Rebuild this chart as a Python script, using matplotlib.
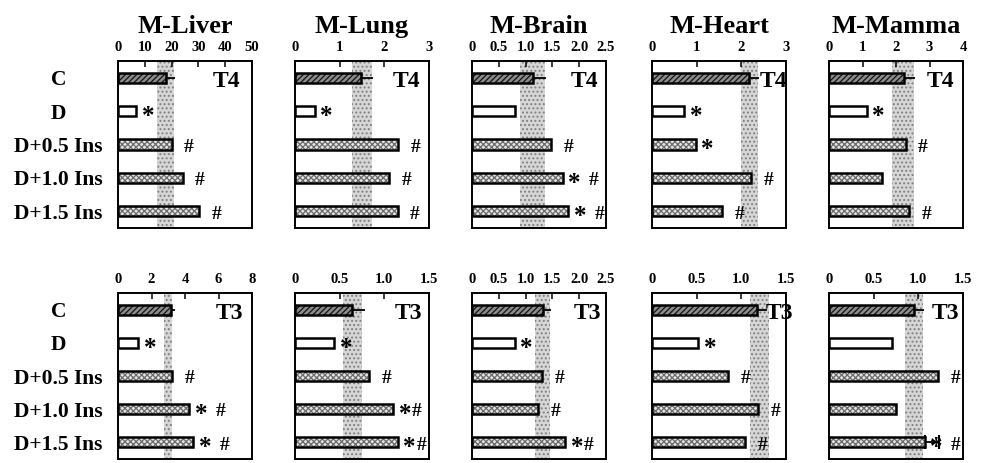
import matplotlib
matplotlib.use('Agg')
from matplotlib import pyplot as plt
from matplotlib.transforms import blended_transform_factory
import numpy as np

plt.rcParams['font.family'] = ['Liberation Serif', 'DejaVu Serif']
plt.rcParams['font.weight'] = 'bold'
plt.rcParams['hatch.linewidth'] = 0.9

organs = ['M-Liver', 'M-Lung', 'M-Brain', 'M-Heart', 'M-Mamma']
groups = ['C', 'D', 'D+0.5 Ins', 'D+1.0 Ins', 'D+1.5 Ins']

# ---- T4 (top row) ----
t4_liver = [17.8, 6.9, 20.0, 24.1, 30.4]
t4_lung = [1.48, 0.44, 2.31, 2.11, 2.30]
t4_brain = [1.14, 0.81, 1.47, 1.69, 1.79]
t4_heart = [2.18, 0.72, 0.98, 2.22, 1.57]
t4_mamma = [2.23, 1.13, 2.29, 1.59, 2.39]
t4_values = [t4_liver, t4_lung, t4_brain, t4_heart, t4_mamma]

t4_errors = [[3.4, 0, 0, 0, 0], [0.26, 0, 0, 0, 0], [0.24, 0, 0, 0, 0],
             [0.21, 0, 0, 0, 0], [0.33, 0, 0, 0, 0]]
t4_bands = [(14.6, 20.9), (1.28, 1.73), (0.89, 1.36), (1.99, 2.37), (1.88, 2.54)]
# '*' = vs C, '#' = vs D ; a space means the two marks are spread apart
t4_marks = [['', '*', '#', '#', '#'],
            ['', '*', '#', '#', '#'],
            ['', '', '#', '* #', '* #'],
            ['', '*', '*', '#', '#'],
            ['', '*', '#', '', '#']]
t4_ticks = [[0, 10, 20, 30, 40, 50], [0, 1, 2, 3], [0, 0.5, 1, 1.5, 2, 2.5],
            [0, 1, 2, 3], [0, 1, 2, 3, 4]]
t4_ticklabels = [['0', '10', '20', '30', '40', '50'], ['0', '1', '2', '3'],
                 ['0', '0.5', '1.0', '1.5', '2.0', '2.5'], ['0', '1', '2', '3'],
                 ['0', '1', '2', '3', '4']]

# ---- T3 (bottom row) ----
t3_liver = [3.14, 1.19, 3.24, 4.24, 4.48]
t3_lung = [0.64, 0.44, 0.83, 1.10, 1.15]
t3_brain = [1.32, 0.80, 1.31, 1.23, 1.74]
t3_heart = [1.18, 0.52, 0.85, 1.19, 1.04]
t3_mamma = [0.95, 0.71, 1.22, 0.75, 1.07]
t3_values = [t3_liver, t3_lung, t3_brain, t3_heart, t3_mamma]

t3_errors = [[0.28, 0, 0, 0, 0], [0.14, 0, 0, 0, 0], [0.15, 0, 0, 0, 0],
             [0.11, 0, 0, 0, 0], [0.11, 0, 0, 0, 0.16]]
t3_bands = [(2.73, 3.24), (0.535, 0.75), (1.18, 1.46), (1.10, 1.31), (0.85, 1.05)]
t3_marks = [['', '*', '#', '* #', '* #'],
            ['', '*', '#', '*#', '*#'],
            ['', '*', '#', '#', '*#'],
            ['', '*', '#', '#', '#'],
            ['', '', '#', '', '* #']]
t3_ticks = [[0, 2, 4, 6, 8], [0, 0.5, 1, 1.5], [0, 0.5, 1, 1.5, 2, 2.5],
            [0, 0.5, 1, 1.5], [0, 0.5, 1, 1.5]]
t3_ticklabels = [['0', '2', '4', '6', '8'], ['0', '0.5', '1.0', '1.5'],
                 ['0', '0.5', '1.0', '1.5', '2.0', '2.5'], ['0', '0.5', '1.0', '1.5'],
                 ['0', '0.5', '1.0', '1.5']]

# layout (pixels of the 981x463 figure)
W, H = 981, 463
lefts = [118, 295, 472, 652, 829]
ax_w = 134
rows = [(61, 228), (293, 459)]
tag_x = {'T4': [0.81, 0.83, 0.84, 0.91, 0.83], 'T3': [0.83, 0.85, 0.86, 0.95, 0.87]}

STIPPLE = '#e4e4e4'
STIPPLE_HATCH = '#6a6a6a'


def put_mark(ax, sym, x, y, dx):
    if sym == '*':
        size, dy = 18, -3.8
    else:
        size, dy = 14, -2
    ax.annotate(sym, xy=(x, y), xytext=(dx, dy), textcoords='offset points',
                ha='left', va='center', fontsize=size, fontweight='bold', zorder=4)


def draw_panel(ax, values, errors, band, marks, ticks, ticklabels, tag, tx):
    y = np.arange(len(groups))
    # reference range band
    ax.axvspan(band[0], band[1], facecolor='#d6d6d6', hatch='....',
               edgecolor='#7e7e7e', linewidth=0, zorder=0)
    # error bars (one sided)
    for i in range(len(values)):
        if errors[i] > 0:
            ax.errorbar(values[i], y[i], xerr=[[0], [errors[i]]], fmt='none',
                        ecolor='black', elinewidth=1.3,
                        capsize=0 if i == 0 else 5, capthick=1.5, zorder=1)
    # bars
    for i in range(len(values)):
        if i == 0:
            face, hatch, hcol = '#8c8c8c', '//////', '#111111'
        elif i == 1:
            face, hatch, hcol = 'white', None, 'white'
        else:
            face, hatch, hcol = STIPPLE, 'xxxxxx', STIPPLE_HATCH
        ax.barh(y[i], values[i], height=0.3, color=face, hatch=hatch,
                edgecolor=hcol, linewidth=0, zorder=2)
        ax.barh(y[i], values[i], height=0.3, facecolor='none',
                edgecolor='black', linewidth=1.8, zorder=3)
    # significance marks
    for i in range(len(values)):
        m = marks[i]
        if '*' in m:
            put_mark(ax, '*', values[i], y[i], 4)
            if '#' in m:
                put_mark(ax, '#', values[i], y[i], 19 if ' ' in m else 13.5)
        elif '#' in m:
            put_mark(ax, '#', values[i], y[i], 9)
    trans = blended_transform_factory(ax.transAxes, ax.transData)
    ax.text(tx, 0.12, tag, transform=trans, ha='center', va='center',
            fontsize=17, fontweight='bold', zorder=4)

    ax.set_xlim(0, ticks[-1])
    ax.set_ylim(4.5, -0.5)
    ax.xaxis.tick_top()
    ax.set_xticks(ticks)
    ax.set_xticklabels(ticklabels)
    ax.tick_params(axis='x', direction='in', length=4, width=1.1, pad=5,
                   labelsize=10.5)
    ax.tick_params(axis='y', length=0)
    for s in ax.spines.values():
        s.set_linewidth(1.4)


fig = plt.figure(figsize=(W / 100, H / 100), dpi=100)

row_data = [
    ('T4', t4_values, t4_errors, t4_bands, t4_marks, t4_ticks, t4_ticklabels),
    ('T3', t3_values, t3_errors, t3_bands, t3_marks, t3_ticks, t3_ticklabels),
]

for r, (tag, vals, errs, bands, marks, ticks, tlabels) in enumerate(row_data):
    top, bottom = rows[r]
    for c in range(len(organs)):
        ax = fig.add_axes([lefts[c] / W, 1 - bottom / H, ax_w / W, (bottom - top) / H])
        draw_panel(ax, vals[c], errs[c], bands[c], marks[c], ticks[c], tlabels[c],
                   tag, tag_x[tag][c])
        if c == 0:
            ax.set_yticks(np.arange(len(groups)))
            ax.set_yticklabels(groups, ha='center', fontsize=15.5, fontweight='bold')
            ax.tick_params(axis='y', pad=43)
        else:
            ax.set_yticks([])
        if r == 0:
            ax.set_title(organs[c], fontsize=19, fontweight='bold', pad=6)

fig.savefig('out.png', dpi=100)
